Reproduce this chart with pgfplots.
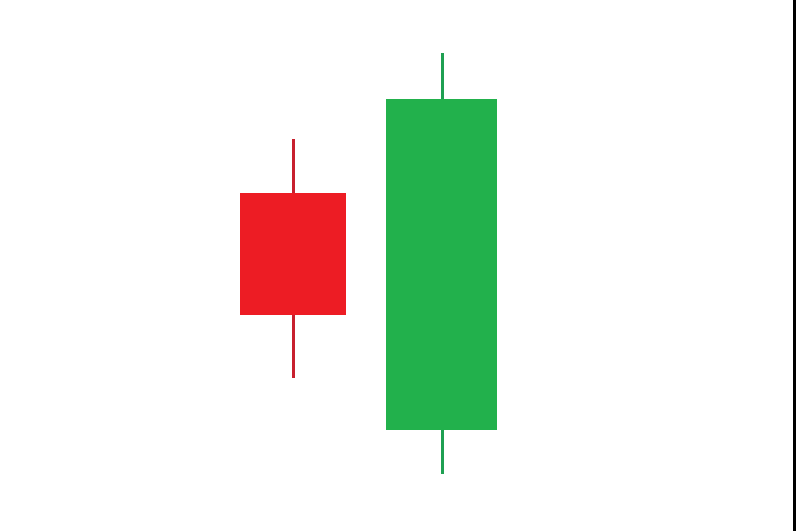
\documentclass[border=0pt]{standalone}
\usepackage{pgfplots}
\pgfplotsset{compat=1.18}
\definecolor{bodyred}{HTML}{ED1C24}
\definecolor{wickred}{HTML}{C8202E}
\definecolor{bodygreen}{HTML}{22B14C}
\definecolor{wickgreen}{HTML}{1FA052}
\begin{document}
\begin{tikzpicture}
\begin{axis}[
  scale only axis,
  width=7.96cm, height=5.31cm,
  xmin=0, xmax=796, ymin=0, ymax=531,
  ticks=none,
  axis line style={draw=none},
  axis background/.style={fill=white},
  clip=true,
]
% red candle: low 153, bottom 216, top 338, high 392
\addplot[wickred, line width=0.3mm] coordinates {(293,153) (293,216)};
\addplot[wickred, line width=0.3mm] coordinates {(293,338) (293,392)};
\addplot[fill=bodyred, draw=none] coordinates {(240,216) (346,216) (346,338) (240,338)} -- cycle;
% green candle: low 57, bottom 101, top 432, high 478
\addplot[wickgreen, line width=0.3mm] coordinates {(442,57) (442,101)};
\addplot[wickgreen, line width=0.3mm] coordinates {(442,432) (442,478)};
\addplot[fill=bodygreen, draw=none] coordinates {(386,101) (497,101) (497,432) (386,432)} -- cycle;
% right edge line
\addplot[black, line width=0.3mm] coordinates {(794.5,0) (794.5,531)};
\end{axis}
\end{tikzpicture}
\end{document}
